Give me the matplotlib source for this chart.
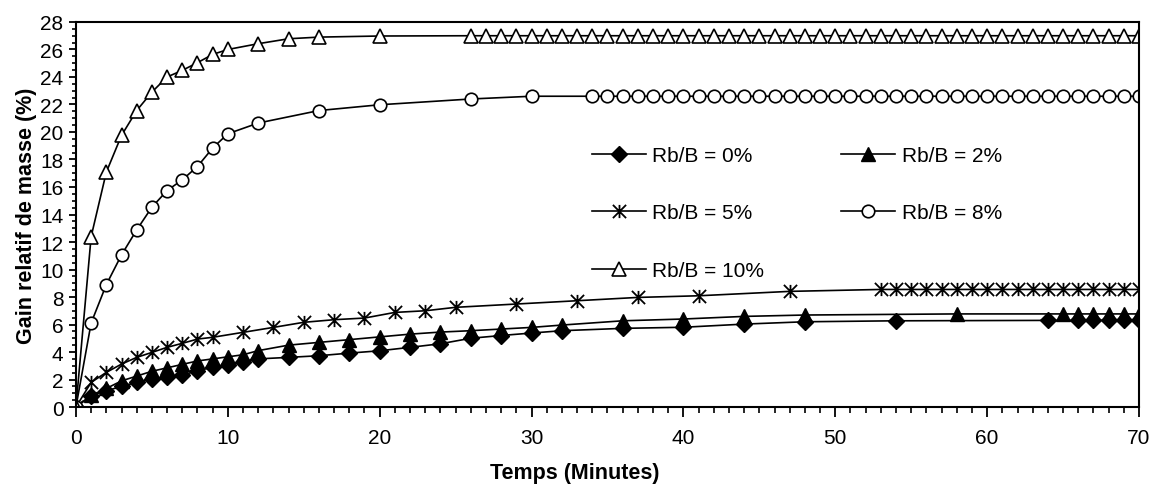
import matplotlib
matplotlib.use("Agg")
import matplotlib.pyplot as plt
from matplotlib.path import Path
from matplotlib.ticker import MultipleLocator

plt.rcParams['font.family'] = ['Liberation Sans', 'DejaVu Sans']

# Temps (minutes) et gain relatif de masse (%) pour chaque rapport Rb/B
t_0 = [0, 1, 2, 3, 4, 5, 6, 7, 8, 9, 10, 11, 12, 14, 16, 18, 20, 22, 24, 26,
       28, 30, 32, 36, 40, 44, 48, 54, 64, 66, 67, 68, 69, 70]
g_0 = [0, 0.82, 1.18, 1.5, 1.79, 2.03, 2.16, 2.32, 2.64, 2.88, 3.05, 3.25, 3.5,
       3.61, 3.73, 3.92, 4.09, 4.34, 4.6, 5.0, 5.2, 5.38, 5.55, 5.72, 5.8, 6.03,
       6.2, 6.27, 6.3, 6.3, 6.3, 6.3, 6.3, 6.3]

t_2 = [0, 1, 2, 3, 4, 5, 6, 7, 8, 9, 10, 11, 12, 14, 16, 18, 20, 22, 24, 26,
       28, 30, 32, 36, 40, 44, 48, 58, 65, 66, 67, 68, 69, 70]
g_2 = [0, 0.85, 1.35, 1.9, 2.25, 2.6, 2.85, 3.1, 3.35, 3.5, 3.65, 3.8, 4.1,
       4.5, 4.7, 4.9, 5.1, 5.3, 5.45, 5.55, 5.67, 5.79, 5.96, 6.27, 6.4, 6.59,
       6.69, 6.77, 6.77, 6.77, 6.77, 6.77, 6.77, 6.77]

t_5 = [0, 1, 2, 3, 4, 5, 6, 7, 8, 9, 11, 13, 15, 17, 19, 21, 23, 25, 29, 33,
       37, 41, 47, 53, 54, 55, 56, 57, 58, 59, 60, 61, 62, 63, 64, 65, 66, 67,
       68, 69, 70]
g_5 = [0, 1.79, 2.52, 3.12, 3.61, 3.97, 4.34, 4.63, 4.94, 5.07, 5.43, 5.79,
       6.16, 6.35, 6.47, 6.88, 7.0, 7.25, 7.49, 7.73, 7.97, 8.09, 8.41, 8.55,
       8.55, 8.55, 8.55, 8.55, 8.55, 8.55, 8.55, 8.55, 8.55, 8.55, 8.55, 8.55,
       8.55, 8.55, 8.55, 8.55, 8.55]

t_8 = [0, 1, 2, 3, 4, 5, 6, 7, 8, 9, 10, 12, 16, 20, 26, 30, 34, 35, 36, 37,
       38, 39, 40, 41, 42, 43, 44, 45, 46, 47, 48, 49, 50, 51, 52, 53, 54, 55,
       56, 57, 58, 59, 60, 61, 62, 63, 64, 65, 66, 67, 68, 69, 70]
g_8 = [0, 6.11, 8.9, 11.06, 12.88, 14.53, 15.74, 16.52, 17.49, 18.83, 19.87,
       20.65, 21.56, 21.98, 22.4, 22.6, 22.6, 22.6, 22.6, 22.6, 22.6, 22.6,
       22.6, 22.6, 22.6, 22.6, 22.6, 22.6, 22.6, 22.6, 22.6, 22.6, 22.6, 22.6,
       22.6, 22.6, 22.6, 22.6, 22.6, 22.6, 22.6, 22.6, 22.6, 22.6, 22.6, 22.6,
       22.6, 22.6, 22.6, 22.6, 22.6, 22.6, 22.6]

t_10 = [0, 1, 2, 3, 4, 5, 6, 7, 8, 9, 10, 12, 14, 16, 20, 26, 27, 28, 29, 30,
        31, 32, 33, 34, 35, 36, 37, 38, 39, 40, 41, 42, 43, 44, 45, 46, 47, 48,
        49, 50, 51, 52, 53, 54, 55, 56, 57, 58, 59, 60, 61, 62, 63, 64, 65, 66,
        67, 68, 69, 70]
g_10 = [0, 12.39, 17.08, 19.75, 21.56, 22.9, 24.0, 24.48, 25.04, 25.64, 26.0,
        26.42, 26.78, 26.9, 26.98, 27.0, 27.0, 27.0, 27.0, 27.0, 27.0, 27.0,
        27.0, 27.0, 27.0, 27.0, 27.0, 27.0, 27.0, 27.0, 27.0, 27.0, 27.0, 27.0,
        27.0, 27.0, 27.0, 27.0, 27.0, 27.0, 27.0, 27.0, 27.0, 27.0, 27.0, 27.0,
        27.0, 27.0, 27.0, 27.0, 27.0, 27.0, 27.0, 27.0, 27.0, 27.0, 27.0, 27.0,
        27.0, 27.0]

labels = ['Rb/B = 0%', 'Rb/B = 2%', 'Rb/B = 5%', 'Rb/B = 8%', 'Rb/B = 10%']

# marqueur "etoile" facon Excel : X + trait vertical
star = Path([(-1, -1), (1, 1), (-1, 1), (1, -1), (0, -1), (0, 1)],
            [Path.MOVETO, Path.LINETO] * 3)

fig = plt.figure(figsize=(11.56, 4.89), dpi=100)
ax = fig.add_axes([0.0657, 0.1656, 0.9196, 0.7874])

lw = 1.2
h0, = ax.plot(t_0, g_0, color='black', lw=lw, marker='D', ms=8.5,
              mfc='black', mec='black', label=labels[0])
h2, = ax.plot(t_2, g_2, color='black', lw=lw, marker='^', ms=9.5,
              mfc='black', mec='black', label=labels[1])
h5, = ax.plot(t_5, g_5, color='black', lw=lw, marker=star, ms=9.5,
              mfc='none', mec='black', mew=1.3, label=labels[2])
h8, = ax.plot(t_8, g_8, color='black', lw=lw, marker='o', ms=9,
              mfc='white', mec='black', mew=1.2, label=labels[3])
h10, = ax.plot(t_10, g_10, color='black', lw=lw, marker='^', ms=9.5,
               mfc='white', mec='black', mew=1.2, label=labels[4])

ax.set_xlim(0, 70)
ax.set_ylim(0, 28)
ax.xaxis.set_major_locator(MultipleLocator(10))
ax.xaxis.set_minor_locator(MultipleLocator(1))
ax.yaxis.set_major_locator(MultipleLocator(2))
ax.yaxis.set_minor_locator(MultipleLocator(0.5))
ax.tick_params(axis='both', which='major', labelsize=15, width=1.3,
               direction='out', color='black')
ax.tick_params(axis='x', which='major', length=7, pad=8)
ax.tick_params(axis='x', which='minor', length=4, width=1.2)
ax.tick_params(axis='y', which='major', length=5, pad=4)
ax.tick_params(axis='y', which='minor', length=3, width=1.2)
for s in ax.spines.values():
    s.set_linewidth(1.5)
    s.set_color('black')

ax.set_xlabel('Temps (Minutes)', fontsize=15.5, fontweight='bold')
ax.xaxis.set_label_coords(0.469, -0.142)
ax.set_ylabel('Gain relatif de masse (%)', fontsize=15.5, fontweight='bold',
              labelpad=2)

leg = ax.legend([h0, h5, h10, h2, h8],
                [labels[0], labels[2], labels[4], labels[1], labels[3]],
                ncol=2, loc='center', bbox_to_anchor=(0.678, 0.504),
                frameon=False, fontsize=15, handlelength=2.6,
                handletextpad=0.3, columnspacing=3.7, labelspacing=1.85,
                borderpad=0)

fig.savefig('out.png', dpi=100)
